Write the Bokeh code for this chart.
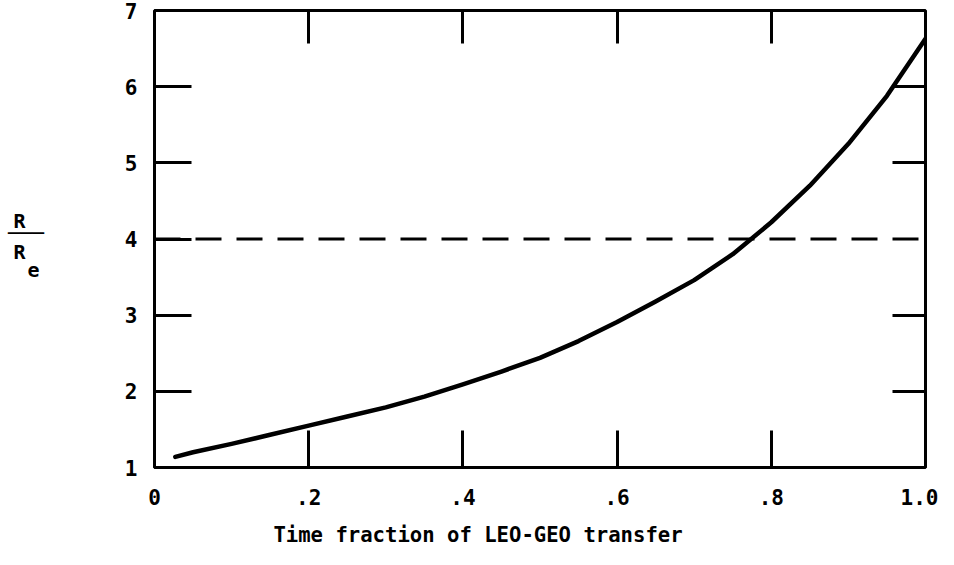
from bokeh.plotting import figure
from bokeh.models import LinearAxis, FixedTicker, Span, Range1d, ColumnDataSource
from bokeh.layouts import row
from bokeh.core.properties import value
from bokeh.embed import file_html
from bokeh.resources import INLINE

# ---- data ----
time_fraction = [0.027, 0.05, 0.1, 0.15, 0.2, 0.25, 0.3, 0.35, 0.4, 0.45, 0.5, 0.55,
                 0.6, 0.65, 0.7, 0.75, 0.8, 0.85, 0.9, 0.95, 1.0]
radius_ratio = [1.14, 1.20, 1.31, 1.43, 1.55, 1.67, 1.79, 1.93, 2.09, 2.26, 2.44, 2.66,
                2.91, 3.18, 3.46, 3.80, 4.22, 4.70, 5.25, 5.88, 6.63]
threshold = 4.0

x_ticks = [0, 0.2, 0.4, 0.6, 0.8, 1.0]
x_tick_labels = ["0", ".2", ".4", ".6", ".8", "1.0"]
x_top_ticks = [0.2, 0.4, 0.6, 0.8]
y_ticks = [1, 2, 3, 4, 5, 6, 7]
y_right_ticks = [2, 3, 5, 6]
x_title = "Time fraction of LEO-GEO transfer"
y_title_parts = ["R", "\u2500\u2500\u2500", "R", "e"]
# positions of the fraction parts, on the chart's own y scale
y_title_x = [19, 25.5, 19, 33]
y_title_y = [4.24, 4.085, 3.83, 3.59]

FONT = "DejaVu Sans Mono"
H = 549

# ---- main chart ----
p = figure(width=878, height=H, output_backend="svg", toolbar_location=None,
           x_range=Range1d(0, 1), y_range=Range1d(1, 7),
           x_axis_type=None, y_axis_type=None, title=None,
           min_border_left=94, min_border_right=13, min_border_top=10,
           min_border_bottom=82)
p.outline_line_color = "black"
p.outline_line_width = 3
p.background_fill_color = "white"
p.border_fill_color = "white"

# ---- left strip holding the R / R_e fraction label (shares the y scale) ----
lab = figure(width=60, height=H, output_backend="svg", toolbar_location=None,
             x_range=Range1d(0, 60), y_range=p.y_range,
             x_axis_type=None, y_axis_type=None, title=None,
             min_border_left=0, min_border_right=0, min_border_top=10,
             min_border_bottom=82)
lab.outline_line_color = None
lab.border_fill_color = "white"
lab_src = ColumnDataSource(dict(x=y_title_x, y=y_title_y, t=y_title_parts))
lab.text("x", "y", text="t", source=lab_src, text_font=value(FONT),
         text_font_style="bold", text_font_size="20px", text_color="black",
         text_align="center", text_baseline="middle")


def style(ax, tick_in, show_labels=True):
    ax.axis_line_color = None
    ax.major_tick_in = tick_in
    ax.major_tick_out = 0
    ax.major_tick_line_width = 3
    ax.major_tick_line_color = "black"
    ax.minor_tick_line_color = None
    ax.major_label_text_font = FONT
    ax.major_label_text_font_style = "bold"
    ax.major_label_text_font_size = "21px"
    ax.major_label_text_color = "black"
    if not show_labels:
        ax.major_label_overrides = {t: "" for t in ax.ticker.ticks}
        ax.major_label_standoff = 0


# the title sits left of centre in the reference: pad it on the right
xb = LinearAxis(ticker=FixedTicker(ticks=x_ticks),
                major_label_overrides={t: l for t, l in zip(x_ticks, x_tick_labels)},
                axis_label=x_title + "\u00a0" * 10)
style(xb, 37)
xb.major_label_standoff = 21
xb.axis_label_text_font = FONT
xb.axis_label_text_font_style = "bold"
xb.axis_label_text_font_size = "20.6px"
xb.axis_label_text_color = "black"
xb.axis_label_standoff = 15
p.add_layout(xb, "below")

yl = LinearAxis(ticker=FixedTicker(ticks=y_ticks))
style(yl, 37)
yl.major_label_standoff = 17
p.add_layout(yl, "left")

xt = LinearAxis(ticker=FixedTicker(ticks=x_top_ticks))
style(xt, 33, show_labels=False)
p.add_layout(xt, "above")

yr = LinearAxis(ticker=FixedTicker(ticks=y_right_ticks))
style(yr, 33, show_labels=False)
p.add_layout(yr, "right")

p.add_layout(Span(location=threshold, dimension="width", line_color="black",
                  line_width=3, line_dash="26 15"))

src = ColumnDataSource(dict(x=time_fraction, y=radius_ratio))
p.line("x", "y", source=src, line_color="black", line_width=4.5, line_join="round",
       line_cap="round")

layout = row(lab, p, spacing=0)
open("out.html", "w").write(file_html(layout, INLINE))
